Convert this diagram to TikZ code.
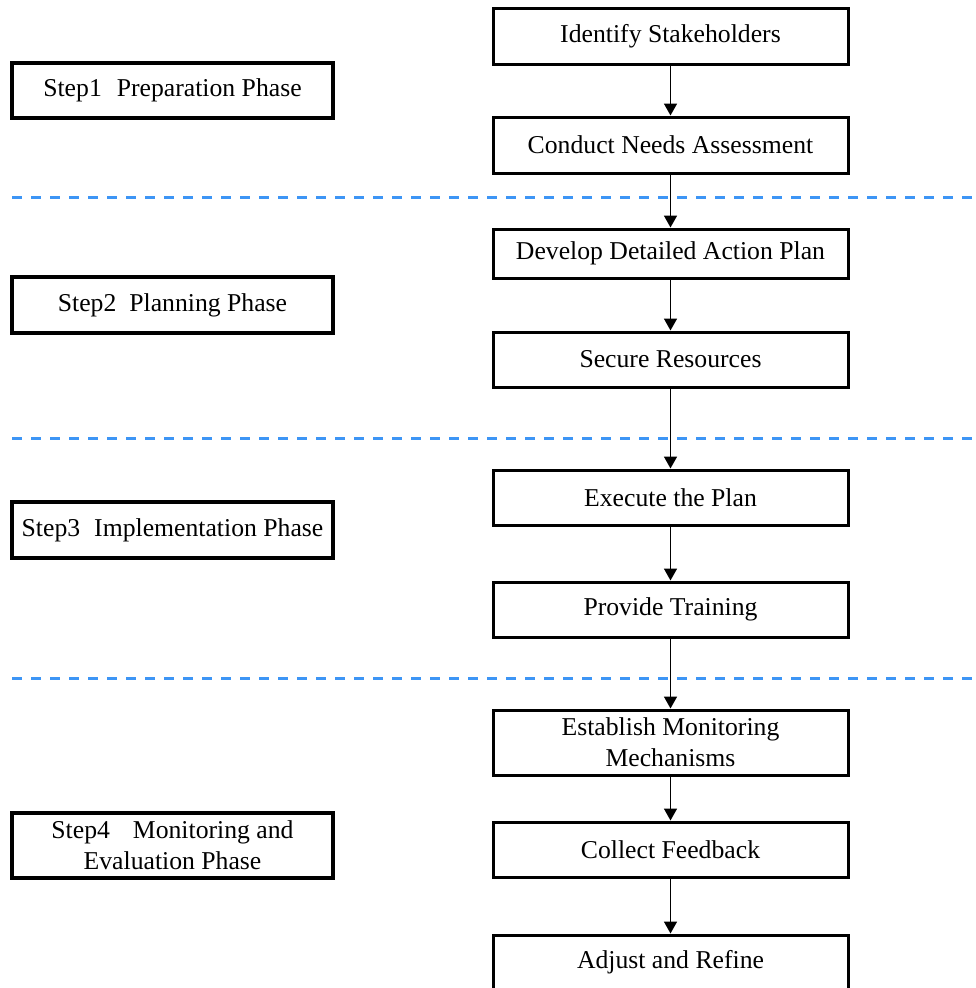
\documentclass[tikz,border=0pt]{standalone}
\usepackage{fontspec}
\setmainfont{Liberation Serif}
\usetikzlibrary{arrows.meta}

\definecolor{sepblue}{HTML}{3D95F5}

\tikzset{
  flowbox/.style={draw=black, line width=3pt, fill=white, rectangle,
    minimum width=355pt, inner sep=0pt, align=center,
    font=\fontsize{25.7}{31}\selectfont},
  phasebox/.style={draw=black, line width=3.5pt, fill=white, rectangle,
    minimum width=321pt, inner sep=0pt, align=center,
    font=\fontsize{25.7}{31}\selectfont},
  flowarrow/.style={draw=black, line width=1.7pt,
    -{Triangle[width=13pt,length=12pt]}},
  separator/.style={draw=sepblue, line width=3pt,
    dash pattern=on 10pt off 9pt}
}

\begin{document}
\begin{tikzpicture}[x=1pt, y=-1pt]
  \useasboundingbox (0,0) rectangle (975,988);
  \clip (0,0) rectangle (975,988);

  % phase separators
  \foreach \yy/\nm in {197/a, 438/b, 678/c} {
    \coordinate (sep\nm L) at (12,\yy);
    \coordinate (sep\nm R) at (975,\yy);
    \draw[separator] (sep\nm L) -- (sep\nm R);
  }

  % process steps
  \node[flowbox, minimum height=56pt] (id)  at (670.5,36)    {Identify Stakeholders};
  \node[flowbox, minimum height=56pt] (cna) at (670.5,145)   {Conduct Needs Assessment};
  \node[flowbox, minimum height=49pt] (dev) at (670.5,253.5) {Develop Detailed Action Plan};
  \node[flowbox, minimum height=55pt] (sec) at (670.5,359.5) {Secure Resources};
  \node[flowbox, minimum height=55pt] (exe) at (670.5,497.5) {Execute the Plan};
  \node[flowbox, minimum height=55pt] (tra) at (670.5,609.5) {Provide Training};
  \node[flowbox, minimum height=65pt] (est) at (670.5,742.5) {Establish Monitoring\\Mechanisms};
  \node[flowbox, minimum height=55pt] (col) at (670.5,849.5) {Collect Feedback};
  \node[flowbox, minimum height=55pt] (adj) at (670.5,962.5) {Adjust and Refine};

  % phase labels
  \node[phasebox, minimum height=55pt] (s1) at (172.5,90.5)  {Step1\hspace{15pt}Preparation Phase};
  \node[phasebox, minimum height=56pt] (s2) at (172.5,305)   {Step2\hspace{13pt}Planning Phase};
  \node[phasebox, minimum height=56pt] (s3) at (172.5,530)   {Step3\hspace{14pt}Implementation Phase};
  \node[phasebox, minimum height=65pt] (s4) at (172.5,845.5) {Step4\hspace{23pt}Monitoring and\\Evaluation Phase};

  % connectors
  \foreach \a/\b in {id/cna, cna/dev, dev/sec, sec/exe, exe/tra, tra/est, est/col, col/adj}
    \draw[flowarrow] (\a.south) -- (\b.north);
\end{tikzpicture}
\end{document}
